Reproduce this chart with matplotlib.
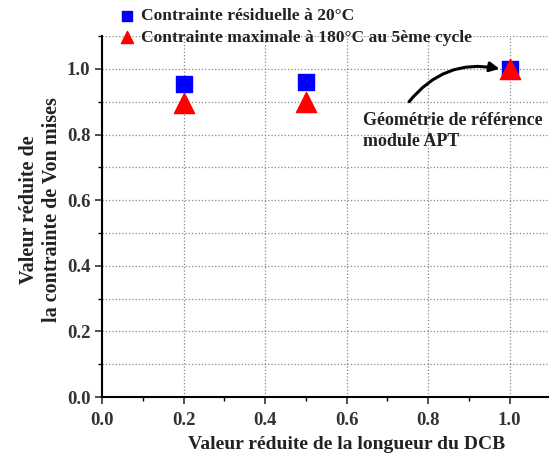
import matplotlib
matplotlib.use("Agg")
from matplotlib import pyplot as plt
from matplotlib.ticker import MultipleLocator

# reduced DCB length and reduced Von Mises stress
x_vals = [0.2, 0.5, 1.0]
residual = [0.955, 0.96, 1.0]
maximal = [0.895, 0.9, 1.0]

x_ticks = [0.0, 0.2, 0.4, 0.6, 0.8, 1.0]

label_res = "Contrainte résiduelle à 20°C"
label_max = "Contrainte maximale à 180°C au 5ème cycle"

plt.rcParams['font.family'] = ['Liberation Serif', 'DejaVu Serif']
plt.rcParams['font.weight'] = 'bold'

fig = plt.figure(figsize=(5.49, 4.57), dpi=100)
# the original axes runs past the right edge of the picture
ax = fig.add_axes([0.186, 0.131, 0.891, 0.79])

ax.scatter(x_vals, residual, marker='s', s=120, color='#0000ff', zorder=3, label=label_res)
ax.scatter(x_vals, maximal, marker='^', s=210, color='#ff0000', zorder=3, label=label_max)

ax.set_xlim(0, 1.2)
ax.set_ylim(0, 1.1)
ax.set_xticks(x_ticks)
ax.xaxis.set_minor_locator(MultipleLocator(0.1))
ax.yaxis.set_major_locator(MultipleLocator(0.2))
ax.yaxis.set_minor_locator(MultipleLocator(0.1))
ax.grid(True, which='major', axis='x', linestyle=':', color='#888888', linewidth=0.9)
ax.grid(True, which='both', axis='y', linestyle=':', color='#888888', linewidth=0.9)
ax.set_axisbelow(True)

for s in ['top', 'right']:
    ax.spines[s].set_visible(False)
ax.spines['left'].set_linewidth(1.5)
ax.spines['bottom'].set_linewidth(1.5)
ax.tick_params(which='major', length=5, width=1.2, labelsize=13.5, colors='#333333')
ax.tick_params(axis='x', which='major', pad=6)
ax.tick_params(which='minor', length=3, width=1)

ax.set_xlabel("Valeur réduite de la longueur du DCB", fontsize=14, fontweight='bold',
              color='#222222', labelpad=5)
ax.set_ylabel("Valeur réduite de\nla contrainte de Von mises", fontsize=14.5, fontweight='bold',
              color='#222222', ha='center', multialignment='center')
ax.yaxis.set_label_coords(-0.083, 0.52)

ax.annotate("Géométrie de référence\nmodule APT", xy=(0.64, 0.81), xycoords='data',
            fontsize=13, fontweight='bold', color='#222222', va='center', linespacing=1.3)
ax.annotate("", xy=(0.975, 1.0), xytext=(0.753, 0.9),
            arrowprops=dict(arrowstyle='-|>', color='black', lw=2.2, mutation_scale=14,
                            connectionstyle='arc3,rad=-0.3', shrinkA=0, shrinkB=0))

ax.legend(loc='upper left', bbox_to_anchor=(0.205, 0.99), bbox_transform=fig.transFigure,
          frameon=False, fontsize=12.6, handletextpad=0.2, labelspacing=0.3,
          borderaxespad=0, borderpad=0.2, scatterpoints=1, markerscale=0.6,
          handlelength=1.2, labelcolor='#222222')

fig.savefig("out.png", dpi=100)
